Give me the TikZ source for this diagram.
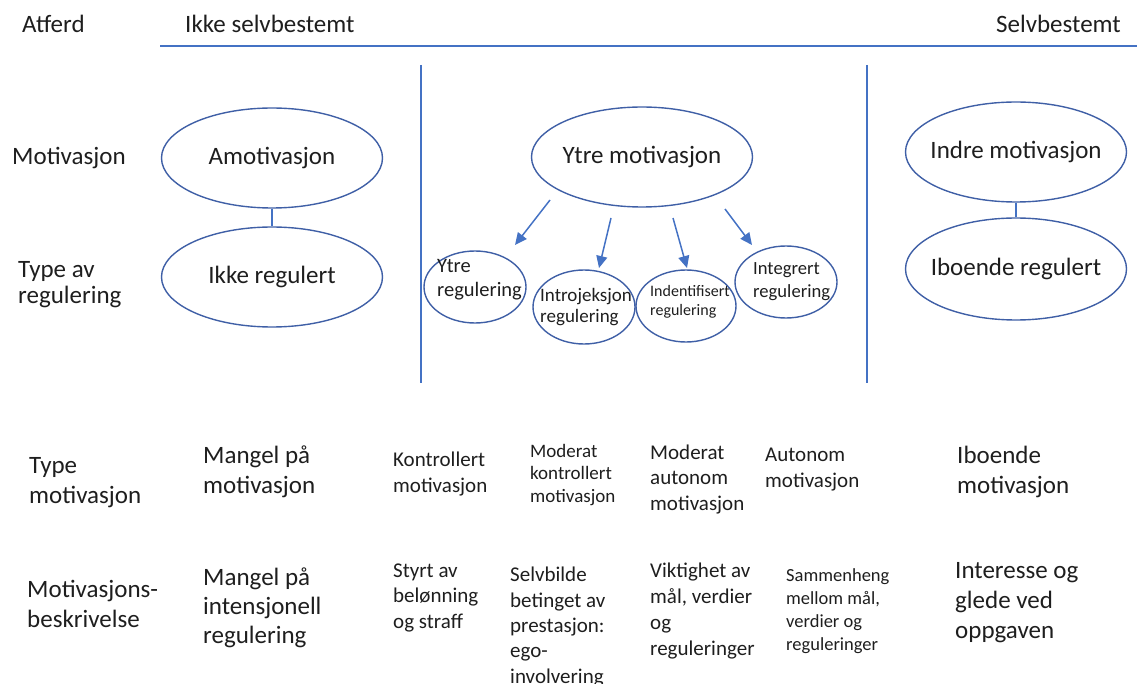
\documentclass[tikz,border=0pt]{standalone}
\usepackage{fontspec}
\setmainfont{Carlito}
\usetikzlibrary{shapes.geometric,arrows.meta}
\definecolor{lineblue}{HTML}{4472C4}
\definecolor{ellblue}{HTML}{3F5FA6}
\definecolor{txt}{HTML}{1E1E1E}
\newcommand{\zw}[1]{\makebox[0pt]{#1}}
\begin{document}
\begin{tikzpicture}[x=1pt,y=-1pt,
  lbl/.style={inner sep=0pt, anchor=base west, align=left, text=txt},
  fL/.style={font=\fontsize{25}{30}\selectfont},
  fLa/.style={font=\fontsize{25}{26}\selectfont},
  fM/.style={font=\fontsize{21}{25.3}\selectfont},
  fS/.style={font=\fontsize{19}{22.5}\selectfont},
  fXS/.style={font=\fontsize{18.5}{22.7}\selectfont},
  bigell/.style={ellipse, draw=ellblue, line width=1.4pt, inner sep=0pt,
    minimum width=221pt, minimum height=100pt, text=txt, font=\fontsize{25}{30}\selectfont},
  smallell/.style={ellipse, draw=ellblue, line width=1.4pt, inner sep=0pt,
    minimum width=102pt, minimum height=72pt},
  link/.style={draw=lineblue, line width=1.3pt},
  arr/.style={draw=lineblue, line width=1.5pt, -{Triangle[length=12pt,width=11pt]}},
  rule/.style={draw=lineblue, line width=1.6pt}
]
\useasboundingbox (0,0) rectangle (1137,684);

% header
\node[lbl,fL] (atferd) at (22,33) {Atferd};
\node[lbl,fL] (ikkesb) at (185,33) {Ikke selvbestemt};
\node[lbl,fL,anchor=base east] (selvsb) at (1121,33) {Selvbestemt};
\draw[rule, line width=2pt] (160,46) -- (1137,46);
\draw[rule] (421,65) -- (421,383);
\draw[rule] (867,65) -- (867,383);

% row labels (anchor = baseline of last line)
\node[lbl,fL] (motlbl) at (12,165) {Motivasjon};
\node[lbl,fLa] (typreg) at (18,304) {Type av\\regulering};
\node[lbl,fL] (typmot) at (29,503) {Type\\motivasjon};
\node[lbl,fL] (motbes) at (27,627) {Motivasjons-\\beskrivelse};

% big ellipses
\node[bigell] (amo) at (272,158) {\zw{Amotivasjon}};
\node[bigell] (ikke) at (272,277) {\zw{Ikke regulert}};
\draw[link] (amo) -- (ikke);

\node[bigell] (ym) at (642,157) {\zw{Ytre motivasjon}};

\node[bigell] (indre) at (1016,152) {\zw{Indre motivasjon}};
\node[bigell, minimum height=102pt] (ibo) at (1016,269) {\zw{Iboende regulert}};
\draw[link] (indre) -- (ibo);

% small ellipses
\node[smallell] (yr) at (475,287) {};
\node[smallell, minimum height=74pt] (intro) at (584,307) {};
\node[smallell, minimum width=100pt] (ident) at (686,306) {};
\node[smallell] (integ) at (786,282) {};

\node[lbl,font=\fontsize{20.5}{24}\selectfont] (yrT) at (437,297) {Ytre\\regulering};
\node[lbl,font=\fontsize{19}{21}\selectfont] (introT) at (540,323) {Introjeksjon\\regulering};
\node[lbl,font=\fontsize{16}{19}\selectfont] (identT) at (650,316) {Indentifisert\\regulering};
\node[lbl,font=\fontsize{18.6}{23}\selectfont] (integT) at (753,298) {Integrert\\regulering};

% arrows
\coordinate (t1) at (550,200); \coordinate (h1) at (515,245);
\coordinate (t2) at (611,218); \coordinate (h2) at (599,268);
\coordinate (t3) at (673,218); \coordinate (h3) at (687,268);
\coordinate (t4) at (725,209); \coordinate (h4) at (752,245);
\draw[arr] (t1) -- (h1);
\draw[arr] (t2) -- (h2);
\draw[arr] (t3) -- (h3);
\draw[arr] (t4) -- (h4);

% Type motivasjon row
\node[lbl,fL] (tm1) at (203,493) {Mangel på\\motivasjon};
\node[lbl,fM] (tm2) at (393,492) {Kontrollert\\motivasjon};
\node[lbl,fS] (tm3) at (530,502) {Moderat\\kontrollert\\motivasjon};
\node[lbl,fM] (tm4) at (650,510) {Moderat\\autonom\\motivasjon};
\node[lbl,fM] (tm5) at (765,487) {Autonom\\motivasjon};
\node[lbl,fL] (tm6) at (957,493) {Iboende\\motivasjon};

% Motivasjonsbeskrivelse row
\node[lbl,font=\fontsize{25}{29}\selectfont] (mb1) at (203,643) {Mangel på\\intensjonell\\regulering};
\node[lbl,fM] (mb2) at (393,628) {Styrt av\\belønning\\og straff};
\node[lbl,fM] (mb3) at (510,683) {Selvbilde\\betinget av\\prestasjon:\\ego-\\involvering};
\node[lbl,font=\fontsize{21}{26}\selectfont] (mb4) at (650,655) {Viktighet av\\mål, verdier\\og\\reguleringer};
\node[lbl,fXS] (mb5) at (786,650) {Sammenheng\\mellom mål,\\verdier og\\reguleringer};
\node[lbl,fL] (mb6) at (955,638) {Interesse og\\glede ved\\oppgaven};
\end{tikzpicture}
\end{document}
